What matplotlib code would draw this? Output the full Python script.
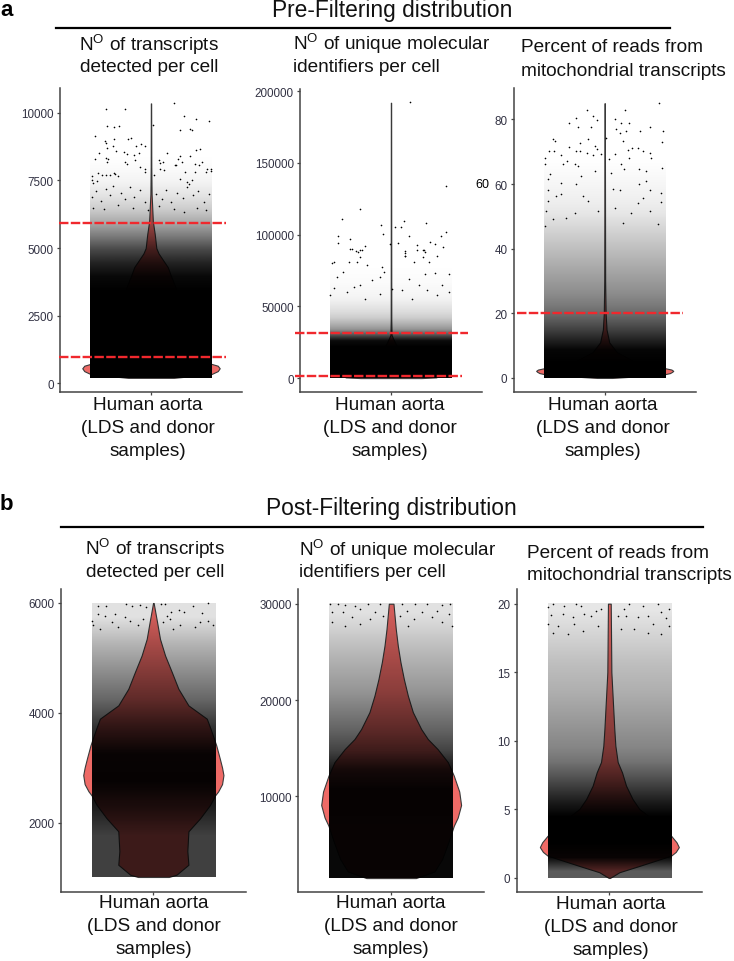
import numpy as np
import matplotlib
matplotlib.use("Agg")
from matplotlib import pyplot as plt

plt.rcParams['font.family'] = ['Liberation Sans', 'DejaVu Sans']
plt.rcParams['mathtext.fontset'] = 'custom'
plt.rcParams['mathtext.rm'] = 'Liberation Sans'
plt.rcParams['mathtext.default'] = 'regular'

W, H = 734, 962
RED = '#ee6a66'
LINE_RED = '#f0282d'
TICK = '#333344'

# violin outlines: value, half width
a1_vy = [200, 300, 345, 450, 555, 650, 715, 800, 1000, 1500, 2500, 3000, 4000, 4300, 4800, 5000, 5500, 6000, 7000, 8000, 10350]
a1_vw = [.15, .33, .4, .44, .453, .44, .4, .34, .16, .14, .22, .2, .13, .11, .05, .035, .025, .012, .004, .002, .001]
a2_vy = [0, 500, 5000, 10000, 20000, 28000, 30000, 40000, 192000]
a2_vw = [.2, .3, .25, .2, .05, .012, .004, .002, .001]
a3_vy = [0, .6, 1, 1.5, 1.9, 2.2, 2.6, 3, 3.6, 5, 8, 11, 15, 20, 30, 85]
a3_vw = [.05, .25, .38, .43, .445, .452, .44, .4, .36, .2, .08, .03, .012, .006, .003, .001]
b1_vy = [1007, 1049, 1230, 1480, 1840, 2078, 2320, 2495, 2568, 2700, 2864, 3000, 3167, 3408, 3711, 3892, 4134, 4437, 4744, 5042, 5345, 5653, 6000]
b1_vw = [.1, .15, .227, .22, .227, .303, .367, .4, .42, .445, .454, .445, .43, .407, .37, .346, .227, .162, .119, .076, .043, .024, .002]
b2_vy = [1516, 2200, 3500, 5250, 6950, 7800, 9100, 10500, 12140, 13560, 14910, 15950, 16990, 18750, 20446, 22180, 23945, 25640, 27373, 30000]
b2_vw = [.16, .28, .33, .37, .405, .43, .452, .44, .405, .366, .3, .237, .194, .14, .108, .082, .06, .043, .03, .015]
b3_vy = [0, .42, .9, 1.63, 1.9, 2.25, 2.6, 3.08, 4.3, 5.03, 5.76, 6.73, 7.7, 8.45, 9.64, 10.86, 15, 20]
b3_vw = [.004, .065, .2, .4, .43, .45, .435, .4, .28, .194, .15, .108, .082, .054, .039, .032, .013, .009]

# how dark the jittered cloud looks, bottom to top, in equal steps over its range
a1_range = (200, 8700)
a1_dark = [1, 1, 1, 1, 1, 1, 1, .97, .87, .72, .52, .34, .2, .11, .05, .02, 0]
a2_range = (0, 80000)
a2_dark = [1, 1, 1, 1, 1, 1, .96, .68, .42, .3, .2, .14, .1, .06, .04, .03, .02, .015, .01, 0]
a3_range = (0, 70)
a3_dark = [1, 1, .98, .85, .72, .6, .52, .45, .4, .35, .3, .25, .2, .15, .1, .07, .05, .03, .015, 0]
b1_range = (1007, 6000)
b1_dark = [.75, .75, .88, .98, .97, .8, .6, .45, .3, .12]
b2_range = (1516, 30000)
b2_dark = [.97, .97, .97, .98, .98, .92, .74, .62, .52, .42, .35, .28, .2, .12]
b3_range = (0, 20)
b3_dark = [.65, .97, 1, 1, 1, .9, .78, .66, .55, .48, .44, .4, .36, .32, .29, .26, .22, .18, .14, .1]

# single cells that can be read in the sparse tops
a1_pts = [(-.295,10150),(-.169,10140),(.15,10380),(.216,9880),(.299,9780),(.385,9700),(-.29,9530),(-.246,9470),
    (-.213,9530),(.013,9560),(.194,9350),(.255,9410),(.273,9370),(-.37,9140),(-.242,9030),(-.152,9030),(-.132,9080),
    (-.304,8950),(-.295,8880),(-.097,8780),(-.066,8840),(-.037,8760),(-.251,8770),(-.29,8710),(-.229,8590),(-.345,8520),
    (-.176,8540),(-.158,8490),(-.114,8450),(-.079,8520),(.106,8520),(.295,8610),(.321,8650),(.194,8400),(.176,8300),
    (.255,8400),(-.367,8300),(-.295,8330),(-.282,8300),(-.29,8180),(-.172,8180),(-.158,8120),(-.103,8240),(.053,8270),
    (.079,8180),(.062,8140),(.167,8090),(.205,8180),(.161,8060),(.293,8120),(.337,8170),(.317,8060),(-.387,7650),
    (-.352,7760),(-.389,7500),(-.383,7420),(-.356,7470),(-.323,7690),(-.295,7690),(-.268,7690),(-.246,7790),(-.235,7750),
    (-.22,7660),(-.07,8000),(-.037,7930),(-.037,7810),(.018,7710),(.084,7870),(.062,7930),(.227,7810),(.37,7910),
    (.396,7930),(.365,7810),(.396,7840),(.29,7810),(.194,7560),(.271,7500),(.249,7380),(.238,7440),(-.39,6900),
    (-.36,7100),(-.33,6750),(-.3,7200),(-.27,6950),(-.25,7300),(-.2,7050),(-.17,6800),(-.14,7250),(-.11,6900),(-.07,7150),
    (-.04,6700),(.03,7000),(.07,6800),(.1,7150),(.13,6700),(.17,7050),(.21,6850),(.24,7250),(.28,6950),(.31,7100),
    (.35,6700),(.38,7000),(-.38,6500),(-.31,6450),(-.22,6600),(-.12,6500),(-.02,6400),(.05,6550),(.15,6450),(.22,6350),
    (.3,6500),(.36,6400)]
a2_pts = [(.123,192570),(.365,134100),(-.207,117900),(-.326,111100),(.084,109700),(.233,108100),(-.064,106700),
    (.024,105300),(.066,105100),(.365,102100),(-.053,100200),(-.348,99300),(.117,99100),(-.268,96800),(-.348,94200),
    (.046,94000),(-.004,93300),(.26,94900),(.174,93000),(.288,93500),(.332,99100),(-.169,92100),(.345,91200),(-.268,90000),
    (-.194,89600),(-.231,88900),(-.218,87700),(.174,89600),(.213,89600),(.224,87700),(.095,88900),(.095,87000),(.095,85200),
    (-.207,84500),(.211,84500),(.306,84900),(-.389,80400),(-.378,81300),(-.257,89700),(-.202,89000),(-.279,81300),
    (-.224,81300),(-.158,79200),(-.059,77400),(.095,85000),(.216,89000),(.253,81300),(.15,81300),(-.317,73900),(-.356,70400),
    (-.202,64600),(-.246,63500),(-.07,70400),(-.048,73900),(-.125,68100),(.117,69300),(.227,72700),(.293,73400),(.385,72700),
    (.183,64600),(.337,64600),(.007,62300),(-.378,62800),(-.4,57700),(-.29,60000),(-.169,55300),(-.07,58800),(.073,61100),
    (.238,61100),(.381,60000),(.139,55300),(.304,57700)]
a3_pts = [(.356,85),(-.117,83),(.136,83),(-.187,80.5),(-.075,81),(-.048,79.8),(-.238,78.8),(-.174,77.7),(-.088,77.7),
    (.07,80.2),(.11,79),(.161,79),(.077,76.9),(.103,75.9),(.143,76.4),(.231,76.4),(.301,77.7),(.387,76.4),(-.341,73.8),
    (-.33,73.3),(-.11,73.8),(-.165,72.8),(.007,74.3),(.121,73.3),(.378,73),(-.235,71.5),(-.062,71.8),(-.051,70.9),
    (-.367,70.2),(-.336,70.2),(-.191,70.2),(-.165,70.2),(.154,70.5),(.183,71.2),(.22,71.2),(.253,70.2),(.297,69.5),
    (-.396,68.1),(-.286,68.9),(-.249,67.1),(-.117,69.5),(-.077,68.9),(-.022,69.2),(.066,69.2),(.029,67.6),(.158,68.1),
    (.308,68.1),(-.396,66.1),(-.275,66.1),(-.198,66.1),(-.176,65.6),(.11,66.1),(.125,64.5),(.227,64.5),(.275,64),(.378,65),
    (-.363,63),(-.154,62.5),(-.066,64),(.044,63.3),(-.374,61.4),(-.286,60.2),(-.187,59.9),(.275,60.9),(.227,59.9),(.055,58.6),
    (.099,58.3),(.297,58.3),(.374,57.3),(-.374,58.3),(-.319,56.3),(-.143,56.3),(-.286,56.8),(.253,55.8),(-.374,54.7),
    (-.11,54.7),(.374,54.4),(.22,54.2),(-.385,51.6),(-.253,49.6),(-.341,49.1),(-.044,51.6),(.066,52.7),(.176,51.1),(.297,51.6),
    (-.396,47),(-.198,51.1),(.121,48),(.352,47.5)]
b1_pts = [(-.356,5950),(-.307,5940),(-.177,5990),(-.138,5950),(-.086,5960),(-.05,5930),(.05,5990),(.076,5980),(.166,5880),
    (.201,5830),(.259,5940),(.356,6000),(.313,5820),(.112,5840),(.086,5760),(.108,5700),(-.184,5740),(-.248,5800),(-.313,5770),
    (-.4,5680),(-.356,5800),(-.27,5650),(-.151,5680),(-.097,5590),(.173,5590),(.27,5560),(.356,5680),(.389,5590),(-.389,5590),
    (-.346,5530),(-.227,5560),(-.065,5700),(.065,5650),(.13,5530),(.302,5650)]
b2_pts = [(-.395,29930),(-.341,30000),(-.298,29860),(-.233,29790),(-.147,29930),(-.071,30000),(.069,30000),(.156,29930),
    (.231,30000),(.328,29860),(.382,29930),(-.38,29100),(-.309,29100),(-.201,29450),(-.104,29100),(.102,29270),(.199,29100),
    (.296,29270),(.371,28930),(-.255,28580),(-.136,28410),(-.05,28680),(.058,28680),(.145,28410),(.263,28580),(-.384,28060),
    (-.201,27890),(.328,28060),(.393,27720),(-.298,27720),(.112,27720)]
b3_pts = [(-.367,19.95),(-.4,19.73),(-.292,19.8),(-.216,20),(-.184,19.85),(-.054,19.61),(-.086,19.49),(.097,19.61),(.13,20),
    (.216,19.8),(.313,19.95),(.389,19.61),(-.378,19.14),(-.302,19.24),(-.238,19),(-.162,19.24),(-.119,19.07),(.054,19.07),
    (.108,19.07),(.184,19),(.248,19.07),(.335,19.36),(.367,18.92),(-.4,18.5),(-.335,18.38),(-.227,18.5),(-.173,18.01),
    (-.076,18.38),(.076,18.13),(.162,18.13),(.281,18.5),(.389,18.38),(-.367,17.89),(-.27,17.77),(.248,17.89),(.335,17.77)]

a1_ticks = [0, 2500, 5000, 7500, 10000]
a2_ticks = [0, 50000, 100000, 150000, 200000]
a3_ticks = [0, 20, 40, 60, 80]
b1_ticks = [2000, 4000, 6000]
b2_ticks = [10000, 20000, 30000]
b3_ticks = [0, 5, 10, 15, 20]

# cut-offs: value, left end, right end
a1_cuts = [(5930, -.605, .496), (984, -.605, .496)]
a2_cuts = [(31170, -.63, .505), (1200, -.63, .467)]
a3_cuts = [(20, -.577, .516)]

title_t = r'N$^{O}$ of transcripts'
title_u = r'N$^{O}$ of unique molecular'
sub_t = 'detected per cell'
sub_u = 'identifiers per cell'
pct_1 = 'Percent of reads from'
pct_2 = 'mitochondrial transcripts'
xlabel = ['Human aorta', '(LDS and donor', 'samples)']

fig = plt.figure(figsize=(W / 100, H / 100), dpi=100)


def text(x, y, s, **kw):
	kw.setdefault('fontsize', 13.7)
	kw.setdefault('ha', 'center')
	kw.setdefault('va', 'center')
	kw.setdefault('color', '#111111')
	fig.text(x / W, 1 - y / H, s, **kw)


def rule(x0, x1, y):
	fig.add_artist(plt.Line2D([x0 / W, x1 / W], [1 - y / H, 1 - y / H], color='black', lw=1.6))


def Panel(box, ylim, ticks, vy, vw, vrange, dark, pts, cuts=()):
	left, top, right, bottom = box
	ax = fig.add_axes([left / W, 1 - bottom / H, (right - left) / W, (bottom - top) / H])

	vy, vw = np.array(vy), np.array(vw)
	ax.fill_betweenx(vy, -vw, vw, facecolor=RED, edgecolor='#3a3a3a', lw=.8, zorder=1)

	# the cells too dense to read one by one: black with the read darkness as alpha
	rgba = np.zeros((len(dark), 2, 4))
	rgba[:, :, 3] = np.column_stack([dark, dark])
	ax.imshow(rgba, origin='lower', aspect='auto', interpolation='bilinear',
		extent=(-.4, .4, vrange[0], vrange[1]), zorder=2)

	pts = np.array(pts)
	ax.scatter(pts[:, 0], pts[:, 1], s=1.4, color='black', lw=0, zorder=3)

	for y, x0, x1 in cuts:
		ax.plot([x0, x1], [y, y], color=LINE_RED, lw=1.7, ls=(0, (4, 1)), clip_on=False, zorder=5)

	ax.set_xlim(-.6, .6)
	ax.set_ylim(*ylim)
	for s in ['top', 'right']:
		ax.spines[s].set_visible(False)
	for s in ['left', 'bottom']:
		ax.spines[s].set_linewidth(1.1)
		ax.spines[s].set_color('#444444')
	ax.set_xticks([0])
	ax.set_xticklabels([''])
	ax.set_yticks(ticks)
	ax.tick_params(axis='both', length=2.5, width=.9, color='#444444', labelsize=8.4, labelcolor=TICK, pad=2)
	return ax


# panel a
Panel((60, 89, 242, 392.7), (-311, 10920), a1_ticks, a1_vy, a1_vw, a1_range, a1_dark, a1_pts, a1_cuts)
Panel((300, 90, 482, 392.7), (-9480, 201600), a2_ticks, a2_vy, a2_vw, a2_range, a2_dark, a2_pts, a2_cuts)
Panel((513.7, 89, 695.7, 392.7), (-4.25, 89.7), a3_ticks, a3_vy, a3_vw, a3_range, a3_dark, a3_pts, a3_cuts)

# panel b
Panel((60.7, 590, 246, 892.7), (739, 6255), b1_ticks, b1_vy, b1_vw, b1_range, b1_dark, b1_pts)
Panel((298.3, 590, 484, 892.7), (102, 31530), b2_ticks, b2_vy, b2_vw, b2_range, b2_dark, b2_pts)
Panel((516.7, 590, 702, 892.7), (-1, 21.07), b3_ticks, b3_vy, b3_vw, b3_range, b3_dark, b3_pts)

text(0, 10, 'a', fontsize=16, fontweight='bold', color='black', ha='left')
text(0, 505, 'b', fontsize=16, fontweight='bold', color='black', ha='left')
text(392, 10, 'Pre-Filtering distribution', fontsize=16.4)
text(391, 508, 'Post-Filtering distribution', fontsize=16.4)
rule(56, 670, 28.7)
rule(61, 703, 527.7)

text(149, 45, title_t)
text(149, 67, sub_t)
text(293, 44, title_u, ha='left')
text(293, 67, sub_u, ha='left')
text(520.7, 48, pct_1, ha='left')
text(520.7, 71, pct_2, ha='left')
text(155, 549, title_t)
text(155, 572.7, sub_t)
text(299, 550, title_u, ha='left')
text(299, 572.7, sub_u, ha='left')
text(526.7, 553, pct_1, ha='left')
text(526.7, 576, pct_2, ha='left')

# stray label left of the third axis in the source figure
text(482, 185, '60', fontsize=9, color='black')

for x, y0 in [(148, 405.7), (390, 405.7), (603, 405.7), (153.5, 904), (391, 904), (611, 905)]:
	for i, s in enumerate(xlabel):
		text(x, y0 + 23 * i, s)

plt.savefig("out.png", dpi=100)
